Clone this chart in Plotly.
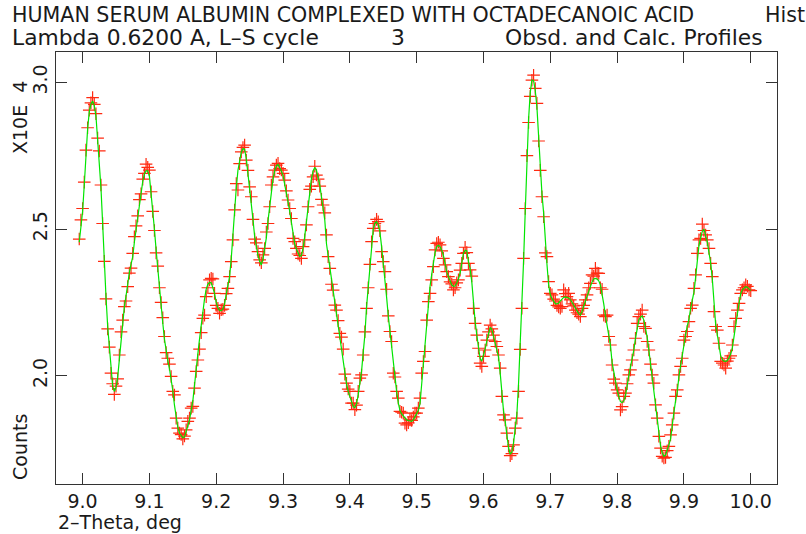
import plotly.graph_objects as go

# 2-theta grid (deg), step 0.0025 from 8.995 to 10.000
two_theta_start = 8.995
two_theta_step = 0.0025

# Calculated profile (counts x 1e4)
calc = [
    2.455, 2.505, 2.560, 2.650, 2.750, 2.840, 2.900, 2.925, 2.936, 2.920, 2.885, 2.803, 2.735, 2.640, 2.519, 2.380, 2.270, 2.170, 2.098, 2.010,
    1.965, 1.947, 1.960, 1.995, 2.060, 2.120, 2.185, 2.235, 2.272, 2.318, 2.352, 2.380, 2.405, 2.455, 2.500, 2.540, 2.587, 2.627, 2.662, 2.688,
    2.698, 2.698, 2.680, 2.620, 2.567, 2.500, 2.430, 2.360, 2.295, 2.240, 2.180, 2.125, 2.079, 2.052, 2.025, 1.990, 1.950, 1.900, 1.858, 1.825,
    1.805, 1.795, 1.789, 1.792, 1.808, 1.830, 1.850, 1.880, 1.915, 1.968, 2.032, 2.075, 2.125, 2.175, 2.225, 2.262, 2.295, 2.312, 2.318, 2.317,
    2.300, 2.280, 2.250, 2.232, 2.223, 2.222, 2.227, 2.245, 2.278, 2.310, 2.338, 2.400, 2.490, 2.560, 2.640, 2.700, 2.735, 2.762, 2.774, 2.771,
    2.740, 2.690, 2.644, 2.600, 2.533, 2.475, 2.435, 2.410, 2.390, 2.378, 2.398, 2.430, 2.470, 2.528, 2.576, 2.638, 2.670, 2.698, 2.715, 2.720,
    2.710, 2.698, 2.682, 2.655, 2.630, 2.592, 2.560, 2.522, 2.480, 2.450, 2.432, 2.417, 2.407, 2.410, 2.435, 2.475, 2.530, 2.585, 2.638, 2.672,
    2.698, 2.710, 2.700, 2.675, 2.650, 2.610, 2.575, 2.530, 2.450, 2.410, 2.375, 2.330, 2.292, 2.250, 2.215, 2.170, 2.130, 2.098, 2.049, 2.002,
    1.973, 1.947, 1.927, 1.908, 1.895, 1.892, 1.905, 1.935, 1.975, 2.015, 2.080, 2.140, 2.235, 2.300, 2.375, 2.455, 2.500, 2.520, 2.525, 2.515,
    2.490, 2.440, 2.389, 2.330, 2.268, 2.204, 2.151, 2.100, 2.035, 1.996, 1.947, 1.908, 1.882, 1.870, 1.862, 1.855, 1.850, 1.848, 1.846, 1.845,
    1.850, 1.860, 1.873, 1.883, 1.905, 1.970, 2.049, 2.100, 2.180, 2.253, 2.305, 2.345, 2.385, 2.420, 2.440, 2.445, 2.440, 2.428, 2.410, 2.378,
    2.355, 2.338, 2.322, 2.310, 2.305, 2.306, 2.317, 2.330, 2.350, 2.383, 2.417, 2.428, 2.426, 2.390, 2.365, 2.320, 2.245, 2.185, 2.139, 2.090,
    2.058, 2.050, 2.068, 2.092, 2.118, 2.145, 2.165, 2.158, 2.135, 2.115, 2.095, 2.065, 2.010, 1.940, 1.880, 1.845, 1.800, 1.755, 1.733, 1.740,
    1.772, 1.830, 1.870, 1.975, 2.100, 2.240, 2.390, 2.560, 2.740, 2.875, 2.965, 3.008, 3.005, 2.972, 2.915, 2.805, 2.700, 2.620, 2.555, 2.450,
    2.380, 2.310, 2.276, 2.263, 2.255, 2.246, 2.245, 2.248, 2.255, 2.262, 2.267, 2.269, 2.268, 2.265, 2.260, 2.250, 2.237, 2.228, 2.218, 2.212,
    2.207, 2.218, 2.238, 2.256, 2.272, 2.288, 2.308, 2.320, 2.330, 2.332, 2.330, 2.324, 2.310, 2.280, 2.245, 2.205, 2.175, 2.140, 2.105, 2.045,
    2.010, 1.980, 1.952, 1.930, 1.912, 1.909, 1.915, 1.932, 1.960, 2.000, 2.030, 2.054, 2.088, 2.128, 2.165, 2.190, 2.200, 2.204, 2.190, 2.165,
    2.132, 2.088, 2.040, 1.990, 1.940, 1.890, 1.850, 1.805, 1.762, 1.738, 1.726, 1.730, 1.745, 1.765, 1.785, 1.822, 1.875, 1.915, 1.945, 1.998,
    2.038, 2.075, 2.115, 2.140, 2.170, 2.192, 2.230, 2.255, 2.285, 2.335, 2.400, 2.445, 2.470, 2.492, 2.500, 2.480, 2.455, 2.420, 2.385, 2.330,
    2.240, 2.175, 2.140, 2.100, 2.068, 2.055, 2.050, 2.049, 2.052, 2.062, 2.075, 2.095, 2.140, 2.180, 2.212, 2.247, 2.280, 2.293, 2.300, 2.304,
    2.302, 2.297, 2.290,
]

# Observed profile (counts x 1e4)
obs = [
    2.466, 2.531, 2.570, 2.660, 2.769, 2.845, 2.905, 2.930, 2.948, 2.925, 2.893, 2.810, 2.766, 2.650, 2.519, 2.390, 2.262, 2.160, 2.098, 2.009,
    1.973, 1.937, 1.965, 1.990, 2.071, 2.150, 2.190, 2.236, 2.255, 2.304, 2.350, 2.367, 2.417, 2.474, 2.511, 2.545, 2.600, 2.620, 2.670, 2.690,
    2.721, 2.710, 2.701, 2.627, 2.560, 2.495, 2.419, 2.374, 2.300, 2.250, 2.198, 2.134, 2.079, 2.060, 2.040, 1.998, 1.947, 1.935, 1.856, 1.822,
    1.805, 1.800, 1.785, 1.795, 1.816, 1.845, 1.856, 1.890, 1.896, 1.958, 2.015, 2.054, 2.091, 2.147, 2.196, 2.207, 2.270, 2.300, 2.327, 2.332,
    2.330, 2.281, 2.240, 2.230, 2.213, 2.225, 2.227, 2.240, 2.280, 2.298, 2.338, 2.389, 2.463, 2.565, 2.655, 2.633, 2.723, 2.763, 2.778, 2.786,
    2.735, 2.700, 2.644, 2.610, 2.533, 2.466, 2.453, 2.423, 2.395, 2.385, 2.412, 2.434, 2.490, 2.519, 2.576, 2.650, 2.678, 2.701, 2.718, 2.724,
    2.706, 2.701, 2.690, 2.667, 2.630, 2.599, 2.570, 2.536, 2.468, 2.457, 2.434, 2.415, 2.410, 2.400, 2.440, 2.463, 2.514, 2.576, 2.635, 2.646,
    2.678, 2.714, 2.684, 2.670, 2.646, 2.601, 2.582, 2.555, 2.480, 2.406, 2.366, 2.312, 2.292, 2.241, 2.224, 2.188, 2.145, 2.132, 2.091, 2.006,
    1.975, 1.955, 1.947, 1.907, 1.907, 1.885, 1.900, 1.947, 1.992, 2.003, 2.071, 2.150, 2.230, 2.300, 2.380, 2.457, 2.502, 2.519, 2.533, 2.525,
    2.494, 2.423, 2.389, 2.355, 2.295, 2.204, 2.151, 2.117, 2.009, 1.996, 1.947, 1.924, 1.879, 1.876, 1.873, 1.839, 1.833, 1.840, 1.850, 1.848,
    1.860, 1.873, 1.873, 1.890, 1.924, 2.009, 2.049, 2.083, 2.190, 2.253, 2.281, 2.327, 2.372, 2.429, 2.451, 2.455, 2.446, 2.426, 2.400, 2.378,
    2.355, 2.338, 2.320, 2.313, 2.293, 2.300, 2.317, 2.327, 2.360, 2.383, 2.417, 2.438, 2.420, 2.383, 2.361, 2.340, 2.230, 2.179, 2.139, 2.094,
    2.043, 2.032, 2.066, 2.088, 2.122, 2.150, 2.173, 2.160, 2.139, 2.117, 2.100, 2.071, 2.026, 1.930, 1.867, 1.850, 1.805, 1.760, 1.728, 1.735,
    1.765, 1.822, 1.856, 1.947, 2.090, 2.230, 2.400, 2.570, 2.750, 2.863, 2.952, 3.007, 3.024, 2.979, 2.928, 2.800, 2.700, 2.610, 2.542, 2.419,
    2.406, 2.321, 2.281, 2.276, 2.261, 2.255, 2.240, 2.235, 2.230, 2.236, 2.293, 2.280, 2.270, 2.281, 2.259, 2.245, 2.238, 2.224, 2.215, 2.210,
    2.202, 2.230, 2.240, 2.259, 2.276, 2.300, 2.315, 2.344, 2.340, 2.366, 2.350, 2.349, 2.300, 2.295, 2.207, 2.202, 2.207, 2.134, 2.105, 2.037,
    1.989, 1.975, 1.952, 1.941, 1.884, 1.895, 1.930, 1.941, 1.973, 2.003, 2.020, 2.054, 2.088, 2.128, 2.179, 2.202, 2.210, 2.224, 2.168, 2.162,
    2.117, 2.088, 2.040, 2.003, 1.975, 1.901, 1.856, 1.794, 1.754, 1.726, 1.720, 1.722, 1.745, 1.760, 1.799, 1.833, 1.873, 1.930, 1.952, 2.003,
    2.032, 2.060, 2.122, 2.134, 2.151, 2.185, 2.230, 2.241, 2.298, 2.344, 2.417, 2.463, 2.468, 2.517, 2.495, 2.480, 2.463, 2.434, 2.383, 2.338,
    2.219, 2.168, 2.156, 2.111, 2.049, 2.043, 2.037, 2.026, 2.050, 2.060, 2.068, 2.105, 2.168, 2.196, 2.224, 2.247, 2.281, 2.293, 2.300, 2.310,
    2.305, 2.293, 2.290,
]

two_theta = [round(two_theta_start + i * two_theta_step, 4) for i in range(len(calc))]

x_ticks = [9.0, 9.1, 9.2, 9.3, 9.4, 9.5, 9.6, 9.7, 9.8, 9.9, 10.0]
y_ticks = [2.0, 2.5, 3.0]

FONT = "DejaVu Sans"
TXT = "#1a1a1a"
W, H = 806, 534
ML, MR, MT, MB = 56, 29, 52, 50
PW, PH = W - ML - MR, H - MT - MB


def px(x):
    return (x - ML) / PW


def py(y):
    return (H - MB - y) / PH


fig = go.Figure()
fig.add_trace(go.Scatter(
    x=two_theta, y=obs, mode="markers",
    marker=dict(symbol="cross-thin", size=9, line=dict(color="#ff2a10", width=1.2)),
    showlegend=False, hoverinfo="skip"))
fig.add_trace(go.Scatter(
    x=two_theta, y=calc, mode="lines",
    line=dict(color="#00e600", width=1.2),
    showlegend=False, hoverinfo="skip"))

axis_common = dict(showgrid=False, zeroline=False, showline=True, linecolor="#333333", linewidth=1.3,
                   mirror="ticks", ticks="inside", ticklen=11, tickwidth=1.3, tickcolor="#333333",
                   tickfont=dict(family=FONT, size=19, color=TXT))
fig.update_xaxes(range=[8.9602, 10.0393], tickvals=x_ticks, ticktext=[f"{v:.1f}" for v in x_ticks], **axis_common)
fig.update_yaxes(range=[1.6316, 3.1031], tickvals=y_ticks, ticktext=[f"{v:.1f}" for v in y_ticks],
                 tickangle=-90, **axis_common)

ann = []
def text(t, x, y, size=19, xanchor="left", yanchor="middle", angle=0):
    ann.append(dict(text=t, x=px(x), y=py(y), xref="paper", yref="paper", showarrow=False,
                    xanchor=xanchor, yanchor=yanchor, textangle=angle,
                    font=dict(family=FONT, size=size, color=TXT)))

text("HUMAN SERUM ALBUMIN COMPLEXED WITH OCTADECANOIC ACID", 10, 15, size=20.6)
text("Hist", 763, 15, size=20.6)
text("Lambda 0.6200 A, L\u2013S cycle", 10, 38, size=21.8)
text("3", 389, 38, size=21.8)
text("Obsd. and Calc. Profiles", 503, 38, size=21.8)
text("X10E  4", 20, 118, xanchor="center", angle=-90)
text("Counts", 20, 447, xanchor="center", angle=-90)
text("2\u2013Theta, deg", 56, 522)

fig.update_layout(width=W, height=H, margin=dict(l=ML, r=MR, t=MT, b=MB),
                  paper_bgcolor="white", plot_bgcolor="white", annotations=ann)

fig.write_html("out.html")
